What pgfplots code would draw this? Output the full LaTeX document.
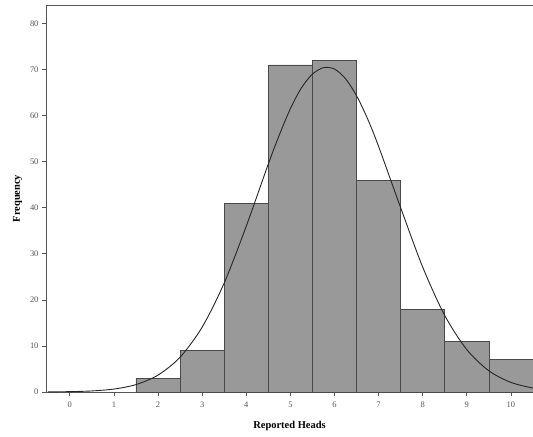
\documentclass[border=0pt]{standalone}
\usepackage{fontspec}
\setmainfont{Liberation Serif}
\usepackage{pgfplots}
\pgfplotsset{compat=1.18}
\definecolor{barfill}{HTML}{999999}
\definecolor{barline}{HTML}{4A4A4A}
\definecolor{axisgray}{HTML}{555555}

\begin{document}
\begin{tikzpicture}
\begin{axis}[
  scale only axis,
  width=487bp, height=387bp,
  xmin=-0.54, xmax=10.5,
  ymin=0, ymax=84,
  xtick={0,...,10}, ytick={0,10,...,80},
  tick align=outside, tick pos=left,
  major tick length=4bp,
  axis line style={axisgray, line width=0.9pt},
  tick style={axisgray, line width=0.7pt},
  ticklabel style={font=\fontsize{8.5}{9}\selectfont, text=axisgray},
  xticklabel style={yshift=-2bp},
  /pgf/number format/assume math mode=true,
  xlabel={\bfseries Reported Heads},
  ylabel={\bfseries Frequency},
  label style={font=\fontsize{10.5}{12}\selectfont},
  xlabel style={yshift=-7bp},
  ylabel style={yshift=1bp},
]
\addplot[ybar, bar width=1, bar shift=0, fill=barfill, draw=barline, line width=0.7pt]
  coordinates {(2,3)(3,9)(4,41)(5,71)(6,72)(7,46)(8,18)(9,11)(10,7)};
\addplot[smooth, black!85, line width=0.9pt, mark=none] coordinates {
  (-0.5,0.02)(0,0.08)(0.5,0.23)(1,0.64)(1.5,1.61)(2,3.67)(2.5,7.56)(3,14.08)
  (3.5,23.67)(4,36.0)(4.5,49.5)(4.75,55.8)(5,61.5)(5.25,66.0)(5.5,69.0)(5.75,70.4)
  (6,70.1)(6.25,68.0)(6.5,64.3)(6.75,59.3)(7,53.3)(7.5,40.0)(8,27.1)(8.5,16.6)
  (9,9.19)(9.5,4.60)(10,2.08)(10.5,0.85)};
\end{axis}
\pgfresetboundingbox
\path[use as bounding box] (current axis.south west) ++(-46bp,-45bp) rectangle ++(533bp,437bp);
\end{tikzpicture}
\end{document}
